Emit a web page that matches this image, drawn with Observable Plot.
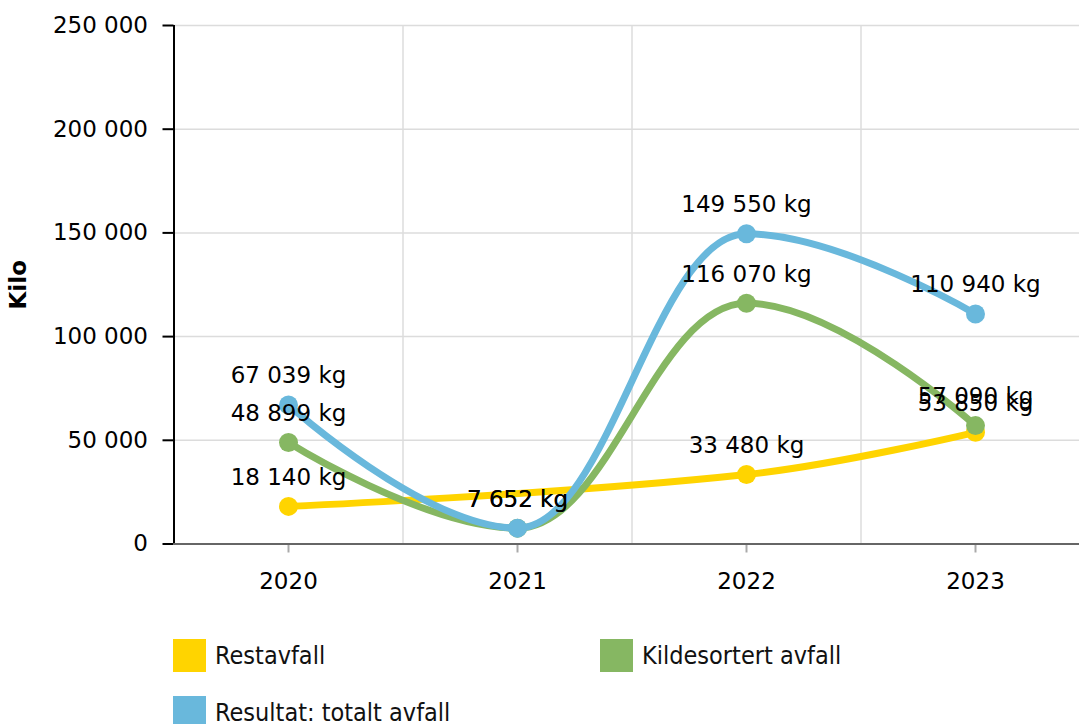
<!DOCTYPE html>
<html>
<head>
<meta charset="utf-8">
<script src="https://cdn.jsdelivr.net/npm/d3@7"></script>
<script src="https://cdn.jsdelivr.net/npm/@observablehq/plot@0.6"></script>
<style>
  html, body { margin: 0; padding: 0; background: #fff; }
  body { font-family: "DejaVu Sans", Verdana, sans-serif; width: 1079px; height: 724px; overflow: hidden; position: relative; }
  #chart svg { display: block; }
  .legend { position: absolute; left: 0; top: 0; width: 1079px; height: 724px; pointer-events: none; }
  .item { position: absolute; display: flex; align-items: center; height: 33px; }
  .swatch { width: 33px; height: 33px; margin-right: 9px; }
  .label { font-family: "DejaVu Sans Condensed", "DejaVu Sans", sans-serif; font-size: 25px; color: #111; white-space: nowrap; }
</style>
</head>
<body>
<div id="chart"></div>
<div class="legend" id="legend"></div>
<script>
// ---- Data ----
const years = [2020, 2021, 2022, 2023];
const restavfall = [18140, null, 33480, 53850];
const kildesortert = [48899, 7652, 116070, 57090];
const totalt = [67039, 7652, 149550, 110940];
const seriesNames = ["Restavfall", "Kildesortert avfall", "Resultat: totalt avfall"];
const seriesColors = ["#FFD400", "#86B762", "#69B8DC"];
const yTicks = [0, 50000, 100000, 150000, 200000, 250000];
const yLabel = "Kilo";
const unit = "kg";

// ---- Build table ----
const seriesValues = [restavfall, kildesortert, totalt];
const rows = [];
seriesNames.forEach((name, si) => {
  years.forEach((yr, i) => {
    const v = seriesValues[si][i];
    if (v != null) rows.push({ series: name, year: yr, value: v });
  });
});

const fmt = v => d3.format(",")(v).replace(/,/g, " ");
const xDomain = [years[0] - 0.5, years[years.length - 1] + 0.5];
const boundaries = years.slice(1).map(y => y - 0.5);

// Spline curve (smoothing 1.5, flat at local extremes) as a d3-style curve factory
function smoothSpline(context) {
  let pts;
  return {
    areaStart() {}, areaEnd() {},
    lineStart() { pts = []; },
    point(x, y) { pts.push([+x, +y]); },
    lineEnd() {
      const s = 1.5, den = s + 1, n = pts.length;
      if (!n) return;
      const rc = [];
      context.moveTo(pts[0][0], pts[0][1]);
      for (let i = 1; i < n; i++) {
        const [px, py] = pts[i];
        let lcx = px, lcy = py;
        if (i < n - 1) {
          const [lx, ly] = pts[i - 1];
          const [nx, ny] = pts[i + 1];
          lcx = (s * px + lx) / den; lcy = (s * py + ly) / den;
          let rcx = (s * px + nx) / den, rcy = (s * py + ny) / den;
          let corr = 0;
          if (rcx !== lcx) corr = ((rcy - lcy) * (rcx - px)) / (rcx - lcx) + py - rcy;
          lcy += corr; rcy += corr;
          if (lcy > ly && lcy > py) { lcy = Math.max(ly, py); rcy = 2 * py - lcy; }
          else if (lcy < ly && lcy < py) { lcy = Math.min(ly, py); rcy = 2 * py - lcy; }
          if (rcy > ny && rcy > py) { rcy = Math.max(ny, py); lcy = 2 * py - rcy; }
          else if (rcy < ny && rcy < py) { rcy = Math.min(ny, py); lcy = 2 * py - rcy; }
          rc[i] = [rcx, rcy];
        }
        const prev = rc[i - 1] || pts[i - 1];
        context.bezierCurveTo(prev[0], prev[1], lcx, lcy, px, py);
      }
    }
  };
}

const W = 1079, H = 620;
const marks = [
  Plot.gridY(yTicks, { stroke: "#dcdcdc", strokeOpacity: 1, strokeWidth: 1.5 }),
  Plot.ruleX(boundaries, { stroke: "#dcdcdc", strokeWidth: 1.5 }),
  Plot.axisY(yTicks, {
    tickFormat: fmt, tickSize: 11, tickPadding: 15, fontSize: 23,
    stroke: "#000", strokeWidth: 2, fill: "#000", label: null
  }),
  Plot.text([yLabel], {
    frameAnchor: "left", textAnchor: "middle", lineAnchor: "middle", rotate: -90, dx: -155,
    fontSize: 23, fontWeight: "bold", fill: "#000"
  }),
  Plot.axisX(years, {
    tickFormat: d => String(d), tickSize: 9, tickPadding: 20, fontSize: 23,
    stroke: "#aaa", strokeWidth: 2, fill: "#000", label: null
  }),
  Plot.ruleX([xDomain[0]], { stroke: "#000", strokeWidth: 2 }),
  Plot.ruleY([0], { stroke: "#666", strokeWidth: 2 })
];

seriesNames.forEach(name => {
  const d = rows.filter(r => r.series === name);
  marks.push(Plot.line(d, { x: "year", y: "value", stroke: "series", strokeWidth: 7, curve: smoothSpline }));
  marks.push(Plot.dot(d, { x: "year", y: "value", fill: "series", r: 9.5 }));
});

marks.push(Plot.text(rows, {
  x: "year", y: "value", text: d => fmt(d.value) + " " + unit,
  dy: -29, fontSize: 23, fill: "#000"
}));

const chart = Plot.plot({
  width: W, height: H,
  marginTop: 25, marginBottom: H - 543.5, marginLeft: 173.5, marginRight: 0,
  style: { fontFamily: "'DejaVu Sans', Verdana, sans-serif", background: "#fff", color: "#000" },
  x: { type: "linear", domain: xDomain, range: [173.5, 1089.5] },
  y: { domain: [yTicks[0], yTicks[yTicks.length - 1]], range: [543.5, 25] },
  color: { domain: seriesNames, range: seriesColors },
  marks
});
document.getElementById("chart").appendChild(chart);

// ---- Legend ----
const legend = document.getElementById("legend");
const positions = [[173, 639], [600, 639], [173, 696]];
seriesNames.forEach((name, i) => {
  const it = document.createElement("div");
  it.className = "item";
  it.style.left = positions[i][0] + "px";
  it.style.top = positions[i][1] + "px";
  const sw = document.createElement("div");
  sw.className = "swatch";
  sw.style.background = seriesColors[i];
  const lb = document.createElement("span");
  lb.className = "label";
  lb.textContent = name;
  it.appendChild(sw);
  it.appendChild(lb);
  legend.appendChild(it);
});
</script>
</body>
</html>
